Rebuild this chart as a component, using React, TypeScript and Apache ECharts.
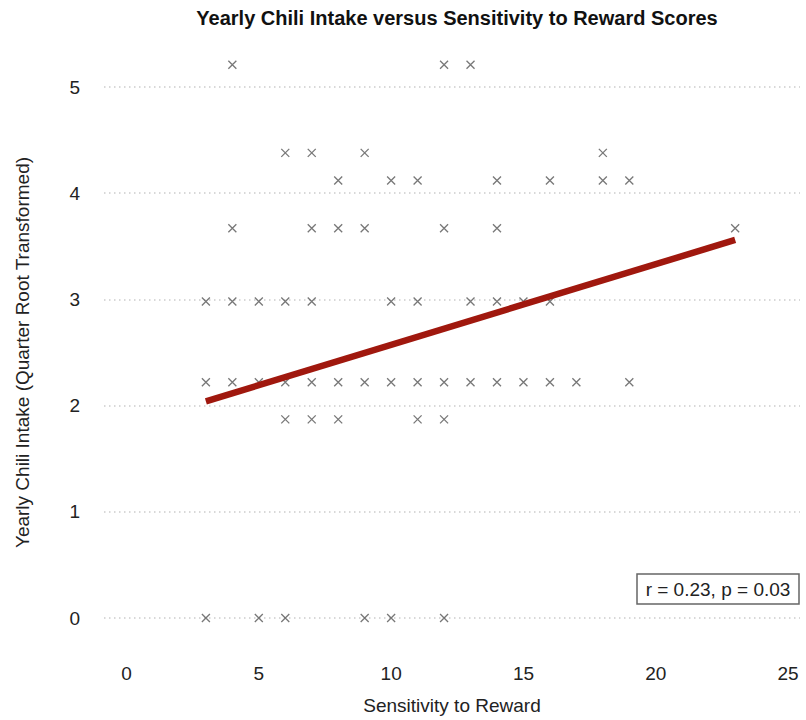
import React, { useEffect, useRef } from "react";
import * as echarts from "echarts";

// Sensitivity to Reward (x) and Yearly Chili Intake, quarter-root transformed (y)
const sensitivity = [
  4, 12, 13,
  6, 7, 9, 18,
  8, 10, 11, 14, 16, 18, 19,
  4, 7, 8, 9, 12, 14, 23,
  3, 4, 5, 6, 7, 10, 11, 13, 14, 15, 16,
  3, 4, 5, 6, 7, 8, 9, 10, 11, 12, 13, 14, 15, 16, 17, 19,
  6, 7, 8, 11, 12,
  3, 5, 6, 9, 10, 12,
];
const intake = [
  5.21, 5.21, 5.21,
  4.38, 4.38, 4.38, 4.38,
  4.12, 4.12, 4.12, 4.12, 4.12, 4.12, 4.12,
  3.67, 3.67, 3.67, 3.67, 3.67, 3.67, 3.67,
  2.98, 2.98, 2.98, 2.98, 2.98, 2.98, 2.98, 2.98, 2.98, 2.98, 2.98,
  2.22, 2.22, 2.22, 2.22, 2.22, 2.22, 2.22, 2.22, 2.22, 2.22, 2.22, 2.22, 2.22, 2.22, 2.22, 2.22,
  1.87, 1.87, 1.87, 1.87, 1.87,
  0, 0, 0, 0, 0, 0,
];
const fitX = [3, 23];
const fitY = [2.04, 3.56];
const xTicks = [0, 5, 10, 15, 20, 25];
const statText = "r = 0.23, p = 0.03";
const titleText = "Yearly Chili Intake versus Sensitivity to Reward Scores";
const xTitle = "Sensitivity to Reward";
const yTitle = "Yearly Chili Intake (Quarter Root Transformed)";

const FONT = "'Liberation Sans', Arial, Helvetica, sans-serif";

export default function App() {
  const ref = useRef<HTMLDivElement>(null);
  useEffect(() => {
    const chart = echarts.init(ref.current!, null, { renderer: "svg" });
    const points = sensitivity.map((x, i) => [x, intake[i]]);
    const fit = fitX.map((x, i) => [x, fitY[i]]);
    chart.setOption({
      animation: false,
      backgroundColor: "#ffffff",
      textStyle: { fontFamily: FONT },
      grid: { left: 104, right: 6, top: 87, bottom: 101, containLabel: false },
      xAxis: {
        type: "value",
        min: -0.85,
        max: 25.45,
        name: xTitle,
        nameLocation: "middle",
        nameGap: 78,
        nameTextStyle: { fontSize: 19, color: "#222", fontFamily: FONT },
        axisLine: { show: false },
        axisTick: { show: false },
        splitLine: { show: false },
        axisLabel: {
          customValues: xTicks,
          fontSize: 19,
          color: "#222",
          margin: 46,
          fontFamily: FONT,
        },
      },
      yAxis: {
        type: "value",
        min: 0,
        max: 5,
        interval: 1,
        name: yTitle,
        nameLocation: "middle",
        nameGap: 72,
        nameTextStyle: { fontSize: 19, color: "#222", fontFamily: FONT },
        axisLine: { show: false },
        axisTick: { show: false },
        axisLabel: { fontSize: 19, color: "#222", margin: 24, fontFamily: FONT },
        splitLine: {
          show: true,
          lineStyle: { color: "#cccccc", width: 1.5, type: [1.5, 3.5] },
        },
      },
      graphic: [
        {
          type: "text",
          x: 457,
          y: 18,
          style: {
            text: titleText,
            fontSize: 20,
            fontWeight: "bold",
            fontFamily: FONT,
            fill: "#111",
            textAlign: "center",
            textVerticalAlign: "middle",
          },
        },
        {
          type: "rect",
          shape: { x: 637, y: 574, width: 162, height: 30 },
          style: { fill: "#fff", stroke: "#666", lineWidth: 1.5 },
          z: 10,
        },
        {
          type: "text",
          x: 718,
          y: 589,
          z: 11,
          style: {
            text: statText,
            fontSize: 19,
            fontFamily: FONT,
            fill: "#222",
            textAlign: "center",
            textVerticalAlign: "middle",
          },
        },
      ],
      series: [
        {
          type: "scatter",
          data: points,
          clip: false,
          symbol: "path://M0,0L10,10M0,10L10,0",
          symbolSize: 8,
          itemStyle: { color: "none", borderColor: "#555", borderWidth: 1.3 },
          emphasis: { disabled: true },
          z: 2,
        },
        {
          type: "line",
          data: fit,
          showSymbol: false,
          symbol: "none",
          lineStyle: { color: "#a0180e", width: 6.5, cap: "butt" },
          emphasis: { disabled: true },
          z: 3,
        },
      ],
    });
    return () => chart.dispose();
  }, []);
  return (
    <div
      ref={ref}
      style={{ position: "absolute", left: 0, top: 0, width: 806, height: 720 }}
    />
  );
}
